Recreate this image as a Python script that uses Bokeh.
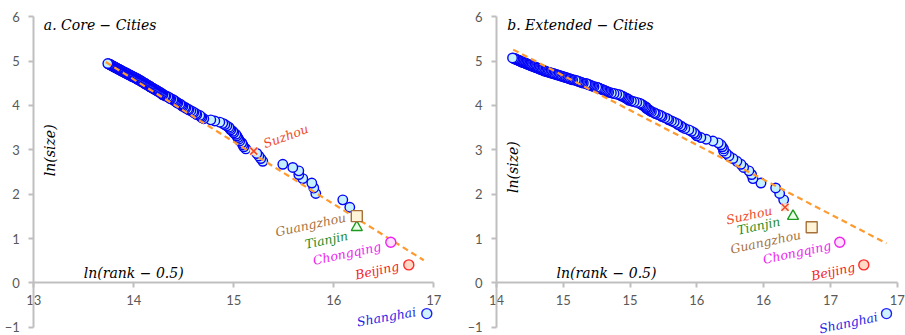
import numpy as np
from bokeh.plotting import figure
from bokeh.models import Range1d, FixedTicker
from bokeh.layouts import row
from bokeh.embed import file_html
from bokeh.resources import INLINE
from bokeh.core.properties import value

# ---------------- data (x = value, one per rank) ----------------
# Panel a: Core - Cities, ranks 1..141
left_size = [
    16.93, 16.75, 16.57, 16.23, 16.23, 16.16, 16.09, 15.82, 15.80, 15.78,
    15.69, 15.65, 15.65, 15.59, 15.49, 15.29, 15.27, 15.25, 15.23, 15.20,
    15.12, 15.10, 15.09, 15.08, 15.06, 15.05, 15.04, 15.03, 15.02, 15.00,
    14.99, 14.97, 14.96, 14.95, 14.93, 14.91, 14.89, 14.86, 14.81, 14.77,
    14.70, 14.68, 14.67, 14.66, 14.63, 14.62, 14.60, 14.59, 14.57, 14.55,
    14.54, 14.52, 14.51, 14.49, 14.48, 14.47, 14.46, 14.44, 14.43, 14.42,
    14.41, 14.40, 14.39, 14.37, 14.36, 14.35, 14.34, 14.32, 14.31, 14.29,
    14.29, 14.28, 14.27, 14.26, 14.25, 14.24, 14.23, 14.22, 14.21, 14.20,
    14.19, 14.18, 14.17, 14.16, 14.16, 14.15, 14.14, 14.13, 14.12, 14.11,
    14.11, 14.10, 14.09, 14.08, 14.07, 14.07, 14.06, 14.05, 14.04, 14.03,
    14.03, 14.02, 14.01, 14.00, 13.99, 13.98, 13.98, 13.97, 13.96, 13.95,
    13.94, 13.94, 13.93, 13.92, 13.91, 13.91, 13.90, 13.89, 13.88, 13.88,
    13.87, 13.86, 13.86, 13.85, 13.84, 13.84, 13.83, 13.82, 13.82, 13.81,
    13.80, 13.80, 13.79, 13.79, 13.78, 13.77, 13.77, 13.76, 13.76, 13.75,
    13.74,
]
# Panel b: Extended - Cities, ranks 1..160
right_size = [
    16.92, 16.75, 16.57, 16.36, 16.22, 16.16, 16.15, 16.12, 16.09, 15.98,
    15.92, 15.91, 15.89, 15.85, 15.83, 15.80, 15.77, 15.74, 15.72, 15.70,
    15.70, 15.69, 15.68, 15.66, 15.62, 15.57, 15.53, 15.50, 15.49, 15.48,
    15.46, 15.44, 15.41, 15.39, 15.38, 15.36, 15.35, 15.33, 15.31, 15.29,
    15.28, 15.26, 15.24, 15.23, 15.21, 15.19, 15.18, 15.16, 15.15, 15.14,
    15.13, 15.12, 15.12, 15.11, 15.10, 15.09, 15.08, 15.07, 15.05, 15.03,
    15.01, 14.99, 14.99, 14.98, 14.97, 14.96, 14.95, 14.94, 14.93, 14.92,
    14.90, 14.88, 14.86, 14.84, 14.83, 14.82, 14.81, 14.80, 14.79, 14.78,
    14.77, 14.76, 14.75, 14.73, 14.72, 14.71, 14.70, 14.69, 14.68, 14.67,
    14.65, 14.64, 14.63, 14.62, 14.61, 14.60, 14.59, 14.57, 14.56, 14.55,
    14.54, 14.53, 14.52, 14.51, 14.50, 14.49, 14.48, 14.47, 14.46, 14.45,
    14.44, 14.43, 14.42, 14.41, 14.40, 14.39, 14.38, 14.37, 14.36, 14.36,
    14.35, 14.34, 14.34, 14.33, 14.32, 14.32, 14.31, 14.30, 14.30, 14.29,
    14.28, 14.28, 14.27, 14.26, 14.26, 14.25, 14.25, 14.24, 14.23, 14.23,
    14.22, 14.22, 14.21, 14.20, 14.20, 14.19, 14.19, 14.18, 14.18, 14.17,
    14.17, 14.16, 14.16, 14.15, 14.15, 14.14, 14.14, 14.13, 14.13, 14.12,
]

left_cities = ["Shanghai", "Beijing", "Chongqing", "Tianjin", "Guangzhou", "Suzhou"]
left_city_rank = [1, 2, 3, 4, 5, 20]
right_cities = ["Shanghai", "Beijing", "Chongqing", "Guangzhou", "Tianjin", "Suzhou"]
right_city_rank = [1, 2, 3, 4, 5, 6]

left_fit_x = [13.72, 16.90]
left_fit_y = [4.98, 0.51]
right_fit_x = [14.125, 16.92]
right_fit_y = [5.26, 0.89]

left_xticks = [13, 14, 15, 16, 17]
left_xtick_labels = ["13", "14", "15", "16", "17"]
right_xticks = [14, 14.5, 15, 15.5, 16, 16.5, 17]
right_xtick_labels = ["14", "15", "15", "16", "16", "17", "17"]
y_ticks = [-1, 0, 1, 2, 3, 4, 5, 6]

left_title = "a. Core \u2212 Cities"
right_title = "b. Extended \u2212 Cities"
y_name = "ln(size)"
x_name = "ln(rank \u2212 0.5)"

# ---------------- styles ----------------
SERIF = value("DejaVu Serif")
CITY_STYLE = {
    "Shanghai":  dict(marker="circle",   line="#1F1FFF", fill="#CFF4FF", text="#2424E6", size=10),
    "Beijing":   dict(marker="circle",   line="#FF2A2A", fill="#FFD8C6", text="#F21C1C", size=10),
    "Chongqing": dict(marker="circle",   line="#EE22EE", fill="#FFE0FF", text="#EE22EE", size=10),
    "Tianjin":   dict(marker="triangle", line="#1E9A1E", fill="#EAFFEA", text="#1E8B1E", size=11),
    "Guangzhou": dict(marker="square",   line="#A67038", fill="#FFF4D8", text="#A8733F", size=11),
    "Suzhou":    dict(marker="x",        line="#F04A28", fill="#FFE3D0", text="#EE4B2B", size=10),
}
# label offsets (screen px) from the marker, angle in degrees
LEFT_LABELS = {
    "Suzhou": (10, -7, 20, "left"),
    "Guangzhou": (-11, 1, 12, "right"),
    "Tianjin": (-9, 8, 12, "right"),
    "Chongqing": (-10, 4, 12, "right"),
    "Beijing": (-10, 1, 12, "right"),
    "Shanghai": (-11, -2, 10, "right"),
}
RIGHT_LABELS = {
    "Suzhou": (-13, 3, 12, "right"),
    "Tianjin": (-13, 5, 12, "right"),
    "Guangzhou": (-11, 7, 12, "right"),
    "Chongqing": (-9, 3, 12, "right"),
    "Beijing": (-9, 2, 12, "right"),
    "Shanghai": (-9, 3, 12, "right"),
}

# pixel layout: y = 6 at 16.3 px, y = -1 at 326.7 px; frame spans 5..335 px
PX_PER_Y = (326.7 - 16.3) / 7.0
Y_END = 6 + (16.3 - 5) / PX_PER_Y
Y_START = Y_END - 330 / PX_PER_Y


def panel(sizes, cities, ranks, fit_x, fit_y, xticks, xlabels, xa0, xa1, px_a0, px_a1,
          width, frame_left, title, title_xy, yname_xy, xname_xy, label_pos):
    ppx = (px_a1 - px_a0) / (xa1 - xa0)
    x_start = xa0 - (px_a0 - frame_left) / ppx
    x_end = x_start + (width - frame_left) / ppx
    p = figure(width=width, height=335, x_range=Range1d(x_start, x_end),
               y_range=Range1d(Y_START, Y_END),
               output_backend="svg", toolbar_location=None,
               min_border_left=frame_left, min_border_right=0, min_border_top=5, min_border_bottom=0)
    p.outline_line_color = None
    p.grid.visible = False
    p.background_fill_color = "white"
    p.border_fill_color = "white"

    xa = p.xaxis[0]
    ya = p.yaxis[0]
    xa.fixed_location = 0
    xa.bounds = (xa0, xa1)
    ya.fixed_location = xa0
    ya.bounds = (-1, 6)
    xa.ticker = FixedTicker(ticks=xticks)
    xa.major_label_overrides = {t: l for t, l in zip(xticks, xlabels)}
    ya.ticker = FixedTicker(ticks=y_ticks)
    for ax in (xa, ya):
        ax.axis_line_color = "#BFBFBF"
        ax.axis_line_width = 2
        ax.major_tick_line_color = "#BFBFBF"
        ax.major_tick_line_width = 2
        ax.major_tick_out = 5
        ax.major_tick_in = 0
        ax.minor_tick_line_color = None
        ax.major_label_text_font = "Lato"
        ax.major_label_text_font_size = "13px"
        ax.major_label_text_color = "#595959"
    ya.major_label_standoff = 9
    xa.major_label_standoff = 7

    rank = np.arange(1, len(sizes) + 1)
    lny = np.log(rank - 0.5)
    xs = np.array(sizes)
    mask = ~np.isin(rank, ranks)
    p.scatter(xs[mask], lny[mask], marker="circle", size=9.5, line_color="#0505F5",
              line_width=1.4, fill_color="#C5F0FF")
    p.line(fit_x, fit_y, line_color="#FF9A2E", line_width=2.2, line_dash="6 4")

    for c, r in zip(cities, ranks):
        st = CITY_STYLE[c]
        cx, cy = sizes[r - 1], float(np.log(r - 0.5))
        if st["marker"] == "x":
            p.scatter([cx], [cy], marker="square", size=8, line_color=None, fill_color=st["fill"])
            p.scatter([cx], [cy], marker="x", size=st["size"], line_color=st["line"], line_width=1.6)
        else:
            p.scatter([cx], [cy], marker=st["marker"], size=st["size"], line_color=st["line"],
                      line_width=1.4, fill_color=st["fill"])
        dx, dy, ang, align = label_pos[c]
        p.text([cx], [cy], text=[c], x_offset=dx, y_offset=dy, angle=np.radians(ang),
               text_align=align, text_baseline="alphabetic", text_font=SERIF,
               text_font_style="italic", text_font_size="12.5px", text_color=st["text"])

    p.text([title_xy[0]], [title_xy[1]], text=[title], text_font=SERIF, text_font_style="italic",
           text_font_size="14px", text_color="black", text_align="left", text_baseline="alphabetic")
    p.text([yname_xy[0]], [yname_xy[1]], text=[y_name], text_font=SERIF, text_font_style="italic",
           text_font_size="14px", text_color="black", text_align="center", text_baseline="middle",
           angle=np.pi / 2)
    p.text([xname_xy[0]], [xname_xy[1]], text=[x_name], text_font=SERIF, text_font_style="italic",
           text_font_size="14px", text_color="black", text_align="left", text_baseline="alphabetic")
    return p


p1 = panel(left_size, left_cities, left_city_rank, left_fit_x, left_fit_y,
           left_xticks, left_xtick_labels, 13, 17, 33.3, 433.3, 450, 3,
           left_title, (13.10, 5.81), (13.16, 2.99), (13.50, 0.22), LEFT_LABELS)
p2 = panel(right_size, right_cities, right_city_rank, right_fit_x, right_fit_y,
           right_xticks, right_xtick_labels, 14, 17, 46.0, 446.7, 455, 18,
           right_title, (14.08, 5.81), (14.12, 2.61), (14.45, 0.22), RIGHT_LABELS)

layout = row(p1, p2)
open("out.html", "w").write(file_html(layout, INLINE))
